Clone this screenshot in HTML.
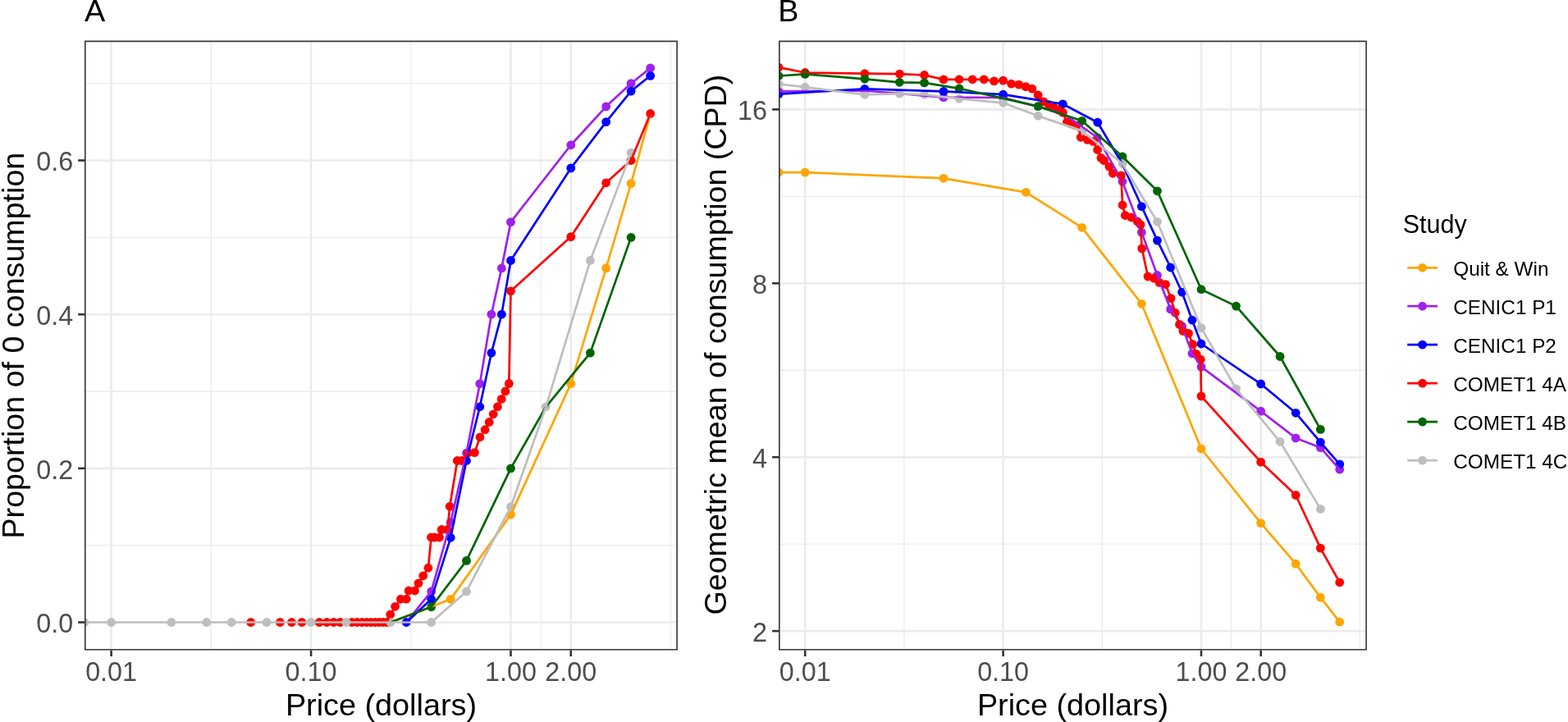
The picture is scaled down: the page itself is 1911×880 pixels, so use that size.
<!DOCTYPE html>
<html><head><meta charset="utf-8"><title>Price curves</title><style>html,body{margin:0;padding:0;background:#fff;width:1911px;height:880px;overflow:hidden}</style></head><body>
<svg width="1911" height="880" viewBox="0 0 1911 880" style="display:block">
<rect width="100%" height="100%" fill="#fff"/>
<defs><clipPath id="clipA"><rect x="103" y="49.6" width="722.9" height="743"/></clipPath></defs>
<g clip-path="url(#clipA)">
<rect x="103" y="49.6" width="722.9" height="743" fill="#fff"/>
<line x1="103" x2="825.9" y1="664.67" y2="664.67" stroke="#EBEBEB" stroke-width="1.3"/>
<line x1="103" x2="825.9" y1="477.01" y2="477.01" stroke="#EBEBEB" stroke-width="1.3"/>
<line x1="103" x2="825.9" y1="289.35" y2="289.35" stroke="#EBEBEB" stroke-width="1.3"/>
<line x1="103" x2="825.9" y1="101.69" y2="101.69" stroke="#EBEBEB" stroke-width="1.3"/>
<line y1="49.6" y2="792.6" x1="257.32" x2="257.32" stroke="#EBEBEB" stroke-width="1.3"/>
<line y1="49.6" y2="792.6" x1="500.77" x2="500.77" stroke="#EBEBEB" stroke-width="1.3"/>
<line y1="49.6" y2="792.6" x1="659.14" x2="659.14" stroke="#EBEBEB" stroke-width="1.3"/>
<line y1="49.6" y2="792.6" x1="817.51" x2="817.51" stroke="#EBEBEB" stroke-width="1.3"/>
<line x1="103" x2="825.9" y1="758.5" y2="758.5" stroke="#EBEBEB" stroke-width="2.6"/>
<line x1="103" x2="825.9" y1="570.84" y2="570.84" stroke="#EBEBEB" stroke-width="2.6"/>
<line x1="103" x2="825.9" y1="383.18" y2="383.18" stroke="#EBEBEB" stroke-width="2.6"/>
<line x1="103" x2="825.9" y1="195.52" y2="195.52" stroke="#EBEBEB" stroke-width="2.6"/>
<line y1="49.6" y2="792.6" x1="135.6" x2="135.6" stroke="#EBEBEB" stroke-width="2.6"/>
<line y1="49.6" y2="792.6" x1="379.05" x2="379.05" stroke="#EBEBEB" stroke-width="2.6"/>
<line y1="49.6" y2="792.6" x1="622.5" x2="622.5" stroke="#EBEBEB" stroke-width="2.6"/>
<line y1="49.6" y2="792.6" x1="695.79" x2="695.79" stroke="#EBEBEB" stroke-width="2.6"/>
<g fill="#FFA500"><circle cx="549.21" cy="730.35" r="5.4"/><circle cx="622.5" cy="627.14" r="5.4"/><circle cx="695.79" cy="467.63" r="5.4"/><circle cx="738.66" cy="326.88" r="5.4"/><circle cx="769.07" cy="223.67" r="5.4"/></g>
<g fill="#A020F0"><circle cx="525.62" cy="720.97" r="5.4"/><circle cx="549.21" cy="636.52" r="5.4"/><circle cx="568.49" cy="552.07" r="5.4"/><circle cx="584.79" cy="467.63" r="5.4"/><circle cx="598.91" cy="383.18" r="5.4"/><circle cx="611.36" cy="326.88" r="5.4"/><circle cx="622.5" cy="270.58" r="5.4"/><circle cx="695.79" cy="176.75" r="5.4"/><circle cx="738.66" cy="129.84" r="5.4"/><circle cx="769.07" cy="101.69" r="5.4"/><circle cx="792.66" cy="82.92" r="5.4"/></g>
<g fill="#0000FF"><circle cx="495.21" cy="758.5" r="5.4"/><circle cx="525.62" cy="730.35" r="5.4"/><circle cx="549.21" cy="655.29" r="5.4"/><circle cx="568.49" cy="561.46" r="5.4"/><circle cx="584.79" cy="495.78" r="5.4"/><circle cx="598.91" cy="430.1" r="5.4"/><circle cx="611.36" cy="383.18" r="5.4"/><circle cx="622.5" cy="317.5" r="5.4"/><circle cx="695.79" cy="204.9" r="5.4"/><circle cx="738.66" cy="148.61" r="5.4"/><circle cx="769.07" cy="111.07" r="5.4"/><circle cx="792.66" cy="92.31" r="5.4"/></g>
<g fill="#FF0000"><circle cx="305.76" cy="758.5" r="5.4"/><circle cx="341.34" cy="758.5" r="5.4"/><circle cx="355.46" cy="758.5" r="5.4"/><circle cx="367.91" cy="758.5" r="5.4"/><circle cx="389.13" cy="758.5" r="5.4"/><circle cx="398.33" cy="758.5" r="5.4"/><circle cx="406.79" cy="758.5" r="5.4"/><circle cx="414.62" cy="758.5" r="5.4"/><circle cx="428.74" cy="758.5" r="5.4"/><circle cx="435.15" cy="758.5" r="5.4"/><circle cx="441.2" cy="758.5" r="5.4"/><circle cx="446.91" cy="758.5" r="5.4"/><circle cx="452.34" cy="758.5" r="5.4"/><circle cx="457.49" cy="758.5" r="5.4"/><circle cx="462.41" cy="758.5" r="5.4"/><circle cx="467.11" cy="758.5" r="5.4"/><circle cx="471.61" cy="758.5" r="5.4"/><circle cx="475.7" cy="749" r="5.4"/><circle cx="481.6" cy="739.3" r="5.4"/><circle cx="488.4" cy="730.2" r="5.4"/><circle cx="495.2" cy="730.2" r="5.4"/><circle cx="498.1" cy="720" r="5.4"/><circle cx="505.5" cy="720" r="5.4"/><circle cx="510" cy="710.9" r="5.4"/><circle cx="515.7" cy="701.8" r="5.4"/><circle cx="521.9" cy="692.2" r="5.4"/><circle cx="525.5" cy="655" r="5.4"/><circle cx="529.5" cy="655" r="5.4"/><circle cx="535.5" cy="655" r="5.4"/><circle cx="538.2" cy="645.5" r="5.4"/><circle cx="545.5" cy="645.5" r="5.4"/><circle cx="548.2" cy="617.3" r="5.4"/><circle cx="557.3" cy="561.5" r="5.4"/><circle cx="562.7" cy="561.5" r="5.4"/><circle cx="570.5" cy="552" r="5.4"/><circle cx="578.4" cy="551.6" r="5.4"/><circle cx="585" cy="532.8" r="5.4"/><circle cx="591.1" cy="523.7" r="5.4"/><circle cx="596.2" cy="514.5" r="5.4"/><circle cx="601.2" cy="504.8" r="5.4"/><circle cx="606.4" cy="495.7" r="5.4"/><circle cx="611.2" cy="486.4" r="5.4"/><circle cx="615.9" cy="476.9" r="5.4"/><circle cx="620.3" cy="467.5" r="5.4"/><circle cx="622.5" cy="354.8" r="5.4"/><circle cx="695.79" cy="288.6" r="5.4"/><circle cx="738.66" cy="222.8" r="5.4"/><circle cx="769.07" cy="195.5" r="5.4"/><circle cx="792.66" cy="138.5" r="5.4"/></g>
<g fill="#006400"><circle cx="525.62" cy="739.73" r="5.4"/><circle cx="568.49" cy="683.44" r="5.4"/><circle cx="622.5" cy="570.84" r="5.4"/><circle cx="719.38" cy="430.1" r="5.4"/><circle cx="769.07" cy="289.35" r="5.4"/></g>
<g fill="#BEBEBE"><circle cx="103" cy="758.5" r="5.4"/><circle cx="135.6" cy="758.5" r="5.4"/><circle cx="208.89" cy="758.5" r="5.4"/><circle cx="251.76" cy="758.5" r="5.4"/><circle cx="282.17" cy="758.5" r="5.4"/><circle cx="325.04" cy="758.5" r="5.4"/><circle cx="379.05" cy="758.5" r="5.4"/><circle cx="421.92" cy="758.5" r="5.4"/><circle cx="475.93" cy="758.5" r="5.4"/><circle cx="525.62" cy="758.5" r="5.4"/><circle cx="568.49" cy="720.97" r="5.4"/><circle cx="622.5" cy="617.75" r="5.4"/><circle cx="665.37" cy="495.78" r="5.4"/><circle cx="719.38" cy="317.5" r="5.4"/><circle cx="769.07" cy="186.14" r="5.4"/></g>
<polyline points="475.93,758.5 549.21,730.35 622.5,627.14 695.79,467.63 738.66,326.88 769.07,223.67 792.66,139.22" fill="none" stroke="#FFA500" stroke-width="2.7" stroke-linejoin="round" stroke-linecap="butt"/>
<polyline points="495.21,758.5 525.62,720.97 549.21,636.52 568.49,552.07 584.79,467.63 598.91,383.18 611.36,326.88 622.5,270.58 695.79,176.75 738.66,129.84 769.07,101.69 792.66,82.92" fill="none" stroke="#A020F0" stroke-width="2.7" stroke-linejoin="round" stroke-linecap="butt"/>
<polyline points="495.21,758.5 525.62,730.35 549.21,655.29 568.49,561.46 584.79,495.78 598.91,430.1 611.36,383.18 622.5,317.5 695.79,204.9 738.66,148.61 769.07,111.07 792.66,92.31" fill="none" stroke="#0000FF" stroke-width="2.7" stroke-linejoin="round" stroke-linecap="butt"/>
<polyline points="471.61,758.5 475.7,749 481.6,739.3 488.4,730.2 495.2,730.2 498.1,720 505.5,720 510,710.9 515.7,701.8 521.9,692.2 525.5,655 529.5,655 535.5,655 538.2,645.5 545.5,645.5 548.2,617.3 557.3,561.5 562.7,561.5 570.5,552 578.4,551.6 585,532.8 591.1,523.7 596.2,514.5 601.2,504.8 606.4,495.7 611.2,486.4 615.9,476.9 620.3,467.5 622.5,354.8 695.79,288.6 738.66,222.8 769.07,195.5 792.66,138.5" fill="none" stroke="#FF0000" stroke-width="2.7" stroke-linejoin="round" stroke-linecap="butt"/>
<polyline points="475.93,758.5 525.62,739.73 568.49,683.44 622.5,570.84 665.37,495.78 719.38,430.1 769.07,289.35" fill="none" stroke="#006400" stroke-width="2.7" stroke-linejoin="round" stroke-linecap="butt"/>
<polyline points="103,758.5 135.6,758.5 208.89,758.5 251.76,758.5 282.17,758.5 325.04,758.5 379.05,758.5 421.92,758.5 475.93,758.5 525.62,758.5 568.49,720.97 622.5,617.75 665.37,495.78 719.38,317.5 769.07,186.14" fill="none" stroke="#BEBEBE" stroke-width="2.7" stroke-linejoin="round" stroke-linecap="butt"/>
<rect x="103" y="49.6" width="722.9" height="743" fill="none" stroke="#333333" stroke-width="3.2"/>
</g>
<defs><clipPath id="clipB"><rect x="949" y="49.6" width="716.9" height="743"/></clipPath></defs>
<g clip-path="url(#clipB)">
<rect x="949" y="49.6" width="716.9" height="743" fill="#fff"/>
<line x1="949" x2="1665.9" y1="663.15" y2="663.15" stroke="#EBEBEB" stroke-width="1.3"/>
<line x1="949" x2="1665.9" y1="451.25" y2="451.25" stroke="#EBEBEB" stroke-width="1.3"/>
<line x1="949" x2="1665.9" y1="239.35" y2="239.35" stroke="#EBEBEB" stroke-width="1.3"/>
<line y1="49.6" y2="792.6" x1="1101.9" x2="1101.9" stroke="#EBEBEB" stroke-width="1.3"/>
<line y1="49.6" y2="792.6" x1="1343.3" x2="1343.3" stroke="#EBEBEB" stroke-width="1.3"/>
<line y1="49.6" y2="792.6" x1="1500.33" x2="1500.33" stroke="#EBEBEB" stroke-width="1.3"/>
<line y1="49.6" y2="792.6" x1="1657.37" x2="1657.37" stroke="#EBEBEB" stroke-width="1.3"/>
<line x1="949" x2="1665.9" y1="769.1" y2="769.1" stroke="#EBEBEB" stroke-width="2.6"/>
<line x1="949" x2="1665.9" y1="557.2" y2="557.2" stroke="#EBEBEB" stroke-width="2.6"/>
<line x1="949" x2="1665.9" y1="345.3" y2="345.3" stroke="#EBEBEB" stroke-width="2.6"/>
<line x1="949" x2="1665.9" y1="133.4" y2="133.4" stroke="#EBEBEB" stroke-width="2.6"/>
<line y1="49.6" y2="792.6" x1="981.2" x2="981.2" stroke="#EBEBEB" stroke-width="2.6"/>
<line y1="49.6" y2="792.6" x1="1222.6" x2="1222.6" stroke="#EBEBEB" stroke-width="2.6"/>
<line y1="49.6" y2="792.6" x1="1464" x2="1464" stroke="#EBEBEB" stroke-width="2.6"/>
<line y1="49.6" y2="792.6" x1="1536.67" x2="1536.67" stroke="#EBEBEB" stroke-width="2.6"/>
<g fill="#FFA500"><circle cx="949" cy="210.1" r="5.4"/><circle cx="981.2" cy="210.1" r="5.4"/><circle cx="1149.93" cy="217.3" r="5.4"/><circle cx="1250.4" cy="234.3" r="5.4"/><circle cx="1318.66" cy="277.3" r="5.4"/><circle cx="1391.33" cy="370.3" r="5.4"/><circle cx="1464" cy="547" r="5.4"/><circle cx="1536.67" cy="637.6" r="5.4"/><circle cx="1579.18" cy="687.2" r="5.4"/><circle cx="1609.34" cy="728.1" r="5.4"/><circle cx="1632.73" cy="758.1" r="5.4"/></g>
<g fill="#A020F0"><circle cx="949" cy="111.3" r="5.4"/><circle cx="1053.87" cy="110.5" r="5.4"/><circle cx="1149.93" cy="118.7" r="5.4"/><circle cx="1222.6" cy="119" r="5.4"/><circle cx="1337.78" cy="167.8" r="5.4"/><circle cx="1367.94" cy="221.3" r="5.4"/><circle cx="1391.33" cy="283.1" r="5.4"/><circle cx="1410.45" cy="335.5" r="5.4"/><circle cx="1426.61" cy="376.9" r="5.4"/><circle cx="1440.61" cy="397.6" r="5.4"/><circle cx="1452.95" cy="430.8" r="5.4"/><circle cx="1464" cy="447.1" r="5.4"/><circle cx="1536.67" cy="501.2" r="5.4"/><circle cx="1579.18" cy="533.9" r="5.4"/><circle cx="1609.34" cy="545.6" r="5.4"/><circle cx="1632.73" cy="572.2" r="5.4"/></g>
<g fill="#0000FF"><circle cx="949" cy="114.6" r="5.4"/><circle cx="1053.87" cy="108.3" r="5.4"/><circle cx="1149.93" cy="111.4" r="5.4"/><circle cx="1222.6" cy="115.2" r="5.4"/><circle cx="1295.27" cy="126.8" r="5.4"/><circle cx="1337.78" cy="149.2" r="5.4"/><circle cx="1391.33" cy="251.7" r="5.4"/><circle cx="1410.45" cy="293.1" r="5.4"/><circle cx="1426.61" cy="326" r="5.4"/><circle cx="1440.61" cy="356.2" r="5.4"/><circle cx="1452.95" cy="390.2" r="5.4"/><circle cx="1464" cy="419" r="5.4"/><circle cx="1536.67" cy="468" r="5.4"/><circle cx="1579.18" cy="503.3" r="5.4"/><circle cx="1609.34" cy="539.1" r="5.4"/><circle cx="1632.73" cy="565.9" r="5.4"/></g>
<g fill="#FF0000"><circle cx="949" cy="82.1" r="5.4"/><circle cx="981.2" cy="88.5" r="5.4"/><circle cx="1053.87" cy="89.7" r="5.4"/><circle cx="1096.38" cy="90.1" r="5.4"/><circle cx="1126.54" cy="91.5" r="5.4"/><circle cx="1149.93" cy="96.9" r="5.4"/><circle cx="1169.05" cy="96.8" r="5.4"/><circle cx="1185.21" cy="96.8" r="5.4"/><circle cx="1199.21" cy="96.8" r="5.4"/><circle cx="1211.55" cy="98.9" r="5.4"/><circle cx="1222.6" cy="98.1" r="5.4"/><circle cx="1232.59" cy="102.2" r="5.4"/><circle cx="1241.71" cy="103.1" r="5.4"/><circle cx="1250.11" cy="105.6" r="5.4"/><circle cx="1257.88" cy="108.1" r="5.4"/><circle cx="1265.11" cy="116" r="5.4"/><circle cx="1271.87" cy="123.8" r="5.4"/><circle cx="1278.23" cy="127.4" r="5.4"/><circle cx="1284.22" cy="130.5" r="5.4"/><circle cx="1289.89" cy="134" r="5.4"/><circle cx="1295.27" cy="137.1" r="5.4"/><circle cx="1300.38" cy="148.9" r="5.4"/><circle cx="1305.26" cy="150.9" r="5.4"/><circle cx="1309.92" cy="152.5" r="5.4"/><circle cx="1314.38" cy="154" r="5.4"/><circle cx="1317.2" cy="167.3" r="5.4"/><circle cx="1325.4" cy="170.4" r="5.4"/><circle cx="1332.6" cy="172.4" r="5.4"/><circle cx="1337.6" cy="182.5" r="5.4"/><circle cx="1341.9" cy="192.5" r="5.4"/><circle cx="1345.6" cy="195.6" r="5.4"/><circle cx="1351.9" cy="203.1" r="5.4"/><circle cx="1356.3" cy="211.3" r="5.4"/><circle cx="1366.3" cy="213.8" r="5.4"/><circle cx="1368.1" cy="250" r="5.4"/><circle cx="1371.3" cy="262.5" r="5.4"/><circle cx="1378.8" cy="265" r="5.4"/><circle cx="1386.3" cy="270" r="5.4"/><circle cx="1390" cy="273.8" r="5.4"/><circle cx="1391.7" cy="302.9" r="5.4"/><circle cx="1399" cy="337" r="5.4"/><circle cx="1406.4" cy="339.2" r="5.4"/><circle cx="1413.1" cy="344.4" r="5.4"/><circle cx="1420.5" cy="346.6" r="5.4"/><circle cx="1427.1" cy="363.6" r="5.4"/><circle cx="1432.3" cy="381.3" r="5.4"/><circle cx="1437.5" cy="395.4" r="5.4"/><circle cx="1441.9" cy="403.5" r="5.4"/><circle cx="1448.5" cy="406.4" r="5.4"/><circle cx="1453.7" cy="419.7" r="5.4"/><circle cx="1458.1" cy="431.6" r="5.4"/><circle cx="1463.3" cy="438.2" r="5.4"/><circle cx="1464" cy="482.9" r="5.4"/><circle cx="1536.67" cy="563.2" r="5.4"/><circle cx="1579.18" cy="603.5" r="5.4"/><circle cx="1609.34" cy="668.1" r="5.4"/><circle cx="1632.73" cy="709.8" r="5.4"/></g>
<g fill="#006400"><circle cx="949" cy="92.5" r="5.4"/><circle cx="981.2" cy="90.4" r="5.4"/><circle cx="1053.87" cy="96.3" r="5.4"/><circle cx="1096.38" cy="100.3" r="5.4"/><circle cx="1126.54" cy="100.9" r="5.4"/><circle cx="1169.05" cy="107.8" r="5.4"/><circle cx="1265.11" cy="129.6" r="5.4"/><circle cx="1318.66" cy="147.3" r="5.4"/><circle cx="1367.94" cy="190.8" r="5.4"/><circle cx="1410.45" cy="232.8" r="5.4"/><circle cx="1464" cy="352.7" r="5.4"/><circle cx="1506.51" cy="373.1" r="5.4"/><circle cx="1560.06" cy="434.5" r="5.4"/><circle cx="1609.34" cy="523.4" r="5.4"/></g>
<g fill="#BEBEBE"><circle cx="949" cy="102.4" r="5.4"/><circle cx="981.2" cy="106.2" r="5.4"/><circle cx="1053.87" cy="115.3" r="5.4"/><circle cx="1096.38" cy="114.2" r="5.4"/><circle cx="1126.54" cy="115.3" r="5.4"/><circle cx="1169.05" cy="120.3" r="5.4"/><circle cx="1222.6" cy="125.3" r="5.4"/><circle cx="1265.11" cy="141.3" r="5.4"/><circle cx="1318.66" cy="159.4" r="5.4"/><circle cx="1367.94" cy="199.5" r="5.4"/><circle cx="1410.45" cy="270.3" r="5.4"/><circle cx="1464" cy="399.6" r="5.4"/><circle cx="1506.51" cy="473.8" r="5.4"/><circle cx="1560.06" cy="538.3" r="5.4"/><circle cx="1609.34" cy="620.4" r="5.4"/></g>
<polyline points="949,210.1 981.2,210.1 1149.93,217.3 1250.4,234.3 1318.66,277.3 1391.33,370.3 1464,547 1536.67,637.6 1579.18,687.2 1609.34,728.1 1632.73,758.1" fill="none" stroke="#FFA500" stroke-width="2.7" stroke-linejoin="round" stroke-linecap="butt"/>
<polyline points="949,111.3 1053.87,110.5 1149.93,118.7 1222.6,119 1295.27,138 1337.78,167.8 1367.94,221.3 1391.33,283.1 1410.45,335.5 1426.61,376.9 1440.61,397.6 1452.95,430.8 1464,447.1 1536.67,501.2 1579.18,533.9 1609.34,545.6 1632.73,572.2" fill="none" stroke="#A020F0" stroke-width="2.7" stroke-linejoin="round" stroke-linecap="butt"/>
<polyline points="949,114.6 1053.87,108.3 1149.93,111.4 1222.6,115.2 1295.27,126.8 1337.78,149.2 1367.94,200 1391.33,251.7 1410.45,293.1 1426.61,326 1440.61,356.2 1452.95,390.2 1464,419 1536.67,468 1579.18,503.3 1609.34,539.1 1632.73,565.9" fill="none" stroke="#0000FF" stroke-width="2.7" stroke-linejoin="round" stroke-linecap="butt"/>
<polyline points="949,82.1 981.2,88.5 1053.87,89.7 1096.38,90.1 1126.54,91.5 1149.93,96.9 1169.05,96.8 1185.21,96.8 1199.21,96.8 1211.55,98.9 1222.6,98.1 1232.59,102.2 1241.71,103.1 1250.11,105.6 1257.88,108.1 1265.11,116 1271.87,123.8 1278.23,127.4 1284.22,130.5 1289.89,134 1295.27,137.1 1300.38,148.9 1305.26,150.9 1309.92,152.5 1314.38,154 1317.2,167.3 1325.4,170.4 1332.6,172.4 1337.6,182.5 1341.9,192.5 1345.6,195.6 1351.9,203.1 1356.3,211.3 1366.3,213.8 1368.1,250 1371.3,262.5 1378.8,265 1386.3,270 1390,273.8 1391.7,302.9 1399,337 1406.4,339.2 1413.1,344.4 1420.5,346.6 1427.1,363.6 1432.3,381.3 1437.5,395.4 1441.9,403.5 1448.5,406.4 1453.7,419.7 1458.1,431.6 1463.3,438.2 1464,482.9 1536.67,563.2 1579.18,603.5 1609.34,668.1 1632.73,709.8" fill="none" stroke="#FF0000" stroke-width="2.7" stroke-linejoin="round" stroke-linecap="butt"/>
<polyline points="949,92.5 981.2,90.4 1053.87,96.3 1096.38,100.3 1126.54,100.9 1169.05,107.8 1265.11,129.6 1318.66,147.3 1367.94,190.8 1410.45,232.8 1464,352.7 1506.51,373.1 1560.06,434.5 1609.34,523.4" fill="none" stroke="#006400" stroke-width="2.7" stroke-linejoin="round" stroke-linecap="butt"/>
<polyline points="949,102.4 981.2,106.2 1053.87,115.3 1096.38,114.2 1126.54,115.3 1169.05,120.3 1222.6,125.3 1265.11,141.3 1318.66,159.4 1367.94,199.5 1410.45,270.3 1464,399.6 1506.51,473.8 1560.06,538.3 1609.34,620.4" fill="none" stroke="#BEBEBE" stroke-width="2.7" stroke-linejoin="round" stroke-linecap="butt"/>
<rect x="949" y="49.6" width="716.9" height="743" fill="none" stroke="#333333" stroke-width="3.2"/>
</g>
<line x1="135.6" x2="135.6" y1="792.6" y2="800" stroke="#333333" stroke-width="2.6"/>
<line x1="379.05" x2="379.05" y1="792.6" y2="800" stroke="#333333" stroke-width="2.6"/>
<line x1="622.5" x2="622.5" y1="792.6" y2="800" stroke="#333333" stroke-width="2.6"/>
<line x1="695.79" x2="695.79" y1="792.6" y2="800" stroke="#333333" stroke-width="2.6"/>
<line x1="95.1" x2="103" y1="758.5" y2="758.5" stroke="#333333" stroke-width="2.6"/>
<line x1="95.1" x2="103" y1="570.84" y2="570.84" stroke="#333333" stroke-width="2.6"/>
<line x1="95.1" x2="103" y1="383.18" y2="383.18" stroke="#333333" stroke-width="2.6"/>
<line x1="95.1" x2="103" y1="195.52" y2="195.52" stroke="#333333" stroke-width="2.6"/>
<line x1="981.2" x2="981.2" y1="792.6" y2="800" stroke="#333333" stroke-width="2.6"/>
<line x1="1222.6" x2="1222.6" y1="792.6" y2="800" stroke="#333333" stroke-width="2.6"/>
<line x1="1464" x2="1464" y1="792.6" y2="800" stroke="#333333" stroke-width="2.6"/>
<line x1="1536.67" x2="1536.67" y1="792.6" y2="800" stroke="#333333" stroke-width="2.6"/>
<line x1="941.1" x2="949" y1="769.1" y2="769.1" stroke="#333333" stroke-width="2.6"/>
<line x1="941.1" x2="949" y1="557.2" y2="557.2" stroke="#333333" stroke-width="2.6"/>
<line x1="941.1" x2="949" y1="345.3" y2="345.3" stroke="#333333" stroke-width="2.6"/>
<line x1="941.1" x2="949" y1="133.4" y2="133.4" stroke="#333333" stroke-width="2.6"/>
<text x="135.6" y="829.7" text-anchor="middle" font-family="'Liberation Sans', Arial, Helvetica, sans-serif" font-size="32.3" fill="#4D4D4D">0.01</text>
<text x="379.05" y="829.7" text-anchor="middle" font-family="'Liberation Sans', Arial, Helvetica, sans-serif" font-size="32.3" fill="#4D4D4D">0.10</text>
<text x="622.5" y="829.7" text-anchor="middle" font-family="'Liberation Sans', Arial, Helvetica, sans-serif" font-size="32.3" fill="#4D4D4D">1.00</text>
<text x="695.79" y="829.7" text-anchor="middle" font-family="'Liberation Sans', Arial, Helvetica, sans-serif" font-size="32.3" fill="#4D4D4D">2.00</text>
<text x="981.2" y="829.7" text-anchor="middle" font-family="'Liberation Sans', Arial, Helvetica, sans-serif" font-size="32.3" fill="#4D4D4D">0.01</text>
<text x="1222.6" y="829.7" text-anchor="middle" font-family="'Liberation Sans', Arial, Helvetica, sans-serif" font-size="32.3" fill="#4D4D4D">0.10</text>
<text x="1464" y="829.7" text-anchor="middle" font-family="'Liberation Sans', Arial, Helvetica, sans-serif" font-size="32.3" fill="#4D4D4D">1.00</text>
<text x="1536.67" y="829.7" text-anchor="middle" font-family="'Liberation Sans', Arial, Helvetica, sans-serif" font-size="32.3" fill="#4D4D4D">2.00</text>
<text x="89.2" y="771.4" text-anchor="end" font-family="'Liberation Sans', Arial, Helvetica, sans-serif" font-size="32.3" fill="#4D4D4D">0.0</text>
<text x="89.2" y="583.74" text-anchor="end" font-family="'Liberation Sans', Arial, Helvetica, sans-serif" font-size="32.3" fill="#4D4D4D">0.2</text>
<text x="89.2" y="396.08" text-anchor="end" font-family="'Liberation Sans', Arial, Helvetica, sans-serif" font-size="32.3" fill="#4D4D4D">0.4</text>
<text x="89.2" y="208.42" text-anchor="end" font-family="'Liberation Sans', Arial, Helvetica, sans-serif" font-size="32.3" fill="#4D4D4D">0.6</text>
<text x="934.9" y="782" text-anchor="end" font-family="'Liberation Sans', Arial, Helvetica, sans-serif" font-size="32.3" fill="#4D4D4D">2</text>
<text x="934.9" y="570.1" text-anchor="end" font-family="'Liberation Sans', Arial, Helvetica, sans-serif" font-size="32.3" fill="#4D4D4D">4</text>
<text x="934.9" y="358.2" text-anchor="end" font-family="'Liberation Sans', Arial, Helvetica, sans-serif" font-size="32.3" fill="#4D4D4D">8</text>
<text x="934.9" y="146.3" text-anchor="end" font-family="'Liberation Sans', Arial, Helvetica, sans-serif" font-size="32.3" fill="#4D4D4D">16</text>
<text x="464.45" y="871.6" text-anchor="middle" font-family="'Liberation Sans', Arial, Helvetica, sans-serif" font-size="37.8" fill="#000">Price (dollars)</text>
<text x="1307.45" y="871.6" text-anchor="middle" font-family="'Liberation Sans', Arial, Helvetica, sans-serif" font-size="37.8" fill="#000">Price (dollars)</text>
<text transform="translate(29.0 421.1) rotate(-90)" x="0" y="0" text-anchor="middle" font-family="'Liberation Sans', Arial, Helvetica, sans-serif" font-size="37.65" fill="#000">Proportion of 0 consumption</text>
<text transform="translate(884.5 420.1) rotate(-90)" x="0" y="0" text-anchor="middle" font-family="'Liberation Sans', Arial, Helvetica, sans-serif" font-size="37.65" fill="#000">Geometric mean of consumption (CPD)</text>
<text x="103.0" y="26.2" font-family="'Liberation Sans', Arial, Helvetica, sans-serif" font-size="37.8" fill="#000">A</text>
<text x="948.2" y="26.2" font-family="'Liberation Sans', Arial, Helvetica, sans-serif" font-size="37.8" fill="#000">B</text>
<text x="1709.7" y="284" font-family="'Liberation Sans', Arial, Helvetica, sans-serif" font-size="30.5" fill="#000">Study</text>
<line x1="1715.2" x2="1752" y1="326.3" y2="326.3" stroke="#FFA500" stroke-width="2.7"/>
<circle cx="1733.6" cy="326.3" r="5.4" fill="#FFA500"/>
<text x="1771.3" y="336" font-family="'Liberation Sans', Arial, Helvetica, sans-serif" font-size="24.3" fill="#000">Quit &amp; Win</text>
<line x1="1715.2" x2="1752" y1="373.2" y2="373.2" stroke="#A020F0" stroke-width="2.7"/>
<circle cx="1733.6" cy="373.2" r="5.4" fill="#A020F0"/>
<text x="1771.3" y="382.9" font-family="'Liberation Sans', Arial, Helvetica, sans-serif" font-size="24.3" fill="#000">CENIC1 P1</text>
<line x1="1715.2" x2="1752" y1="420.1" y2="420.1" stroke="#0000FF" stroke-width="2.7"/>
<circle cx="1733.6" cy="420.1" r="5.4" fill="#0000FF"/>
<text x="1771.3" y="429.8" font-family="'Liberation Sans', Arial, Helvetica, sans-serif" font-size="24.3" fill="#000">CENIC1 P2</text>
<line x1="1715.2" x2="1752" y1="467.1" y2="467.1" stroke="#FF0000" stroke-width="2.7"/>
<circle cx="1733.6" cy="467.1" r="5.4" fill="#FF0000"/>
<text x="1771.3" y="476.8" font-family="'Liberation Sans', Arial, Helvetica, sans-serif" font-size="24.3" fill="#000">COMET1 4A</text>
<line x1="1715.2" x2="1752" y1="514.1" y2="514.1" stroke="#006400" stroke-width="2.7"/>
<circle cx="1733.6" cy="514.1" r="5.4" fill="#006400"/>
<text x="1771.3" y="523.8" font-family="'Liberation Sans', Arial, Helvetica, sans-serif" font-size="24.3" fill="#000">COMET1 4B</text>
<line x1="1715.2" x2="1752" y1="561.1" y2="561.1" stroke="#BEBEBE" stroke-width="2.7"/>
<circle cx="1733.6" cy="561.1" r="5.4" fill="#BEBEBE"/>
<text x="1771.3" y="570.8" font-family="'Liberation Sans', Arial, Helvetica, sans-serif" font-size="24.3" fill="#000">COMET1 4C</text>
</svg>
</body></html>
